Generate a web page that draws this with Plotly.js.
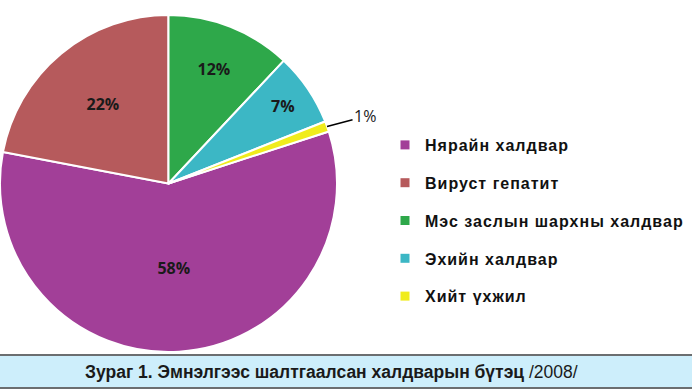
<!DOCTYPE html>
<html><head><meta charset="utf-8">
<script src="https://cdn.plot.ly/plotly-3.0.1.min.js"></script>
<style>html,body{margin:0;padding:0;background:#fff;} .legendtext{letter-spacing:1px;}</style>
</head><body><div id="chart" style="width:692px;height:390px;"></div>
<script>
const categories = ["Нярайн халдвар","Вируст гепатит","Мэс заслын шархны халдвар","Эхийн халдвар","Хийт үхжил"];
const shares = [58,22,12,7,1];
const colors = ["#a23f98","#b65a5c","#2ea84a","#3cb7c5","#f0ec1c"];
const captionBold = "Зураг 1. Эмнэлгээс шалтгаалсан халдварын бүтэц";
const captionYear = "/2008/";

const W = 692, H = 390;
const pieDomX = [0, 337/W], pieDomY = [38/H, 375/H];
const rotation = 72;

// position of the small (outside-labelled) slice, from the data
const total = shares.reduce((a,b)=>a+b,0);
const last = shares.length-1;
const midAngle = (rotation - (shares[last]/total)*360/2) * Math.PI/180;
const cx = (pieDomX[0]+pieDomX[1])/2*W;
const cy = H - (pieDomY[0]+pieDomY[1])/2*H;
const r = Math.min((pieDomX[1]-pieDomX[0])*W, (pieDomY[1]-pieDomY[0])*H)/2;
const px = cx + r*Math.sin(midAngle);
const py = cy - r*Math.cos(midAngle);

const pie = {
  type: 'pie',
  labels: categories,
  values: shares,
  sort: false,
  direction: 'clockwise',
  rotation: rotation,
  domain: {x: pieDomX, y: pieDomY},
  marker: {colors: colors, line: {color: '#ffffff', width: 2}},
  textinfo: 'percent',
  textposition: shares.map((v,i)=> i===last ? 'none' : 'inside'),
  insidetextorientation: 'horizontal',
  textfont: {family: 'Open Sans, Noto Sans, sans-serif', size: 16, color: '#1a1a1a', weight: 'bold'},
  showlegend: false,
  hoverinfo: 'label+percent'
};

const legendTraces = categories.map((c,i)=>({
  type: 'scatter', x: [null], y: [null], mode: 'markers',
  name: c, legendgroup: 'g'+i,
  marker: {symbol: 'square', size: 9, color: colors[i]},
  hoverinfo: 'skip'
}));

const layout = {
  width: W, height: H,
  margin: {l:0, r:0, t:0, b:0},
  paper_bgcolor: '#ffffff', plot_bgcolor: 'rgba(0,0,0,0)',
  xaxis: {visible: false}, yaxis: {visible: false},
  showlegend: true,
  legend: {
    x: 385/W, y: 1-128/H, xanchor: 'left', yanchor: 'top',
    font: {family: 'Liberation Sans, Arial, sans-serif', size: 16, color: '#111111', weight: 'bold'},
    tracegroupgap: 14, bgcolor: 'rgba(0,0,0,0)'
  },
  shapes: [
    {type:'rect', xref:'paper', yref:'paper', x0:-0.01, x1:1.01, y0:2/H, y1:35/H,
     fillcolor:'#cdeefb', line:{width:0}, layer:'below'},
    {type:'line', xref:'paper', yref:'paper', x0:0, x1:1, y0:35/H, y1:35/H, line:{color:'#6b6e70', width:2}},
    {type:'line', xref:'paper', yref:'paper', x0:0, x1:1, y0:2/H, y1:2/H, line:{color:'#6b6e70', width:2}}
  ],
  annotations: [
    {xref:'paper', yref:'paper', x:0.479, y:18.5/H, xanchor:'center', yanchor:'middle', showarrow:false,
     text: '<b>'+captionBold+'</b> '+captionYear,
     font:{family:'Liberation Sans Narrow, Liberation Sans, sans-serif', size:17.5, color:'#1a1a1a'}},
    {xref:'paper', yref:'paper', x:px/W, y:1-py/H, showarrow:true, arrowhead:0, arrowwidth:1.5, arrowcolor:'#000',
     ax: 38, ay: -10, text: shares[last]+'%',
     font:{family:'Open Sans, Noto Sans, sans-serif', size:16, color:'#1a1a1a'}}
  ]
};

Plotly.newPlot('chart', [pie, ...legendTraces], layout, {displayModeBar:false, staticPlot:true});
</script></body></html>
